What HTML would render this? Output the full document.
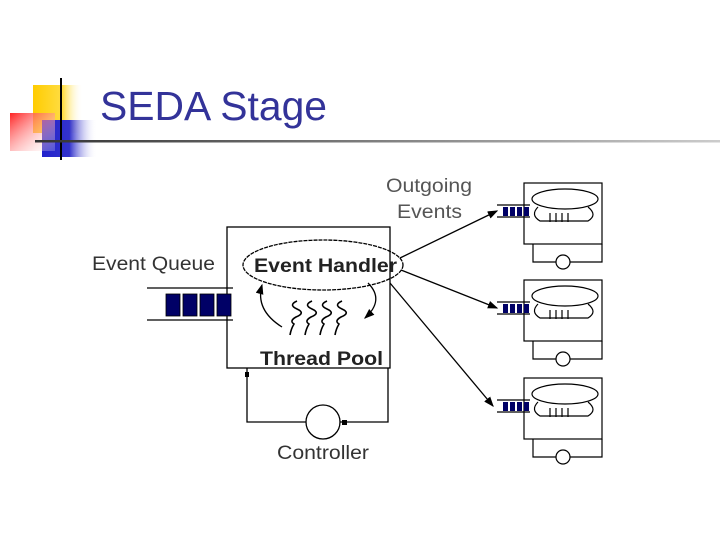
<!DOCTYPE html>
<html><head><style>
body{margin:0;background:#fff}
svg{display:block}
text{font-family:"Liberation Sans",sans-serif}
</style></head><body>
<svg width="720" height="540" viewBox="0 0 720 540" xmlns="http://www.w3.org/2000/svg">
<defs>
<linearGradient id="yg" x1="0" x2="1"><stop offset="0" stop-color="#ffcc00"/><stop offset="0.6" stop-color="#ffdd44"/><stop offset="1" stop-color="#fff" stop-opacity="0"/></linearGradient>
<linearGradient id="rg" x1="0" x2="1" y1="0" y2="1"><stop offset="0" stop-color="#ff2222"/><stop offset="1" stop-color="#fff" stop-opacity="0.2"/></linearGradient>
<linearGradient id="bg" x1="0" x2="1"><stop offset="0" stop-color="#2222cc"/><stop offset="0.5" stop-color="#3333cc"/><stop offset="1" stop-color="#fff" stop-opacity="0"/></linearGradient>
<linearGradient id="lg" x1="0" x2="1"><stop offset="0" stop-color="#333"/><stop offset="1" stop-color="#ccc"/></linearGradient>
<marker id="ah" markerWidth="8" markerHeight="6" refX="7" refY="3" orient="auto"><path d="M0,0 L8,3 L0,6z" fill="#000"/></marker>
</defs>
<rect x="33" y="85" width="50" height="48" fill="url(#yg)"/>
<rect x="42" y="120" width="55" height="37" fill="url(#bg)"/>
<rect x="10" y="113" width="45" height="38" fill="url(#rg)"/>
<line x1="61" y1="78" x2="61" y2="160" stroke="#000" stroke-width="2"/>
<rect x="35" y="140" width="685" height="2.5" fill="url(#lg)"/>
<text x="100" y="120" font-size="41" fill="#333399" textLength="227" lengthAdjust="spacingAndGlyphs">SEDA Stage</text>

<g fill="none" stroke="#000" stroke-width="1.3">
<rect x="227" y="227" width="163" height="141"/>
<ellipse cx="323" cy="265" rx="80" ry="25" stroke-dasharray="4 1"/>
<line x1="147" y1="288" x2="233" y2="288"/>
<line x1="147" y1="320" x2="233" y2="320"/>
<path d="M247 368 V422 H306 M340 422 H388 V368"/>
<circle cx="323" cy="422" r="17"/>
<path d="M282 327 Q255 310 262 285" marker-end="url(#ah)"/>
<path d="M368 283 Q385 300 365 318" marker-end="url(#ah)"/>
<path d="M297 301 q-9 4 0 8 q9 4 -1 8 q-7 4 -2 7 q-3 5 -4 11 M312 301 q-9 4 0 8 q9 4 -1 8 q-7 4 -2 7 q-3 5 -4 11 M327 301 q-9 4 0 8 q9 4 -1 8 q-7 4 -2 7 q-3 5 -4 11 M342 301 q-9 4 0 8 q9 4 -1 8 q-7 4 -2 7 q-3 5 -4 11" stroke-width="1.6"/>
<line x1="400" y1="258" x2="497" y2="211" marker-end="url(#ah)"/>
<line x1="401" y1="270" x2="497" y2="308" marker-end="url(#ah)"/>
<line x1="390" y1="283" x2="493" y2="406" marker-end="url(#ah)"/>
</g>
<rect x="245" y="372" width="4" height="5" fill="#000"/>
<rect x="342" y="420" width="5" height="5" fill="#000"/>
<g fill="#000066" stroke="#000" stroke-width="0.8">
<rect x="166" y="294" width="14" height="22"/><rect x="183" y="294" width="14" height="22"/><rect x="200" y="294" width="14" height="22"/><rect x="217" y="294" width="14" height="22"/>
</g>
<text x="92" y="270" font-size="19" fill="#333" textLength="123" lengthAdjust="spacingAndGlyphs">Event Queue</text>
<text x="254" y="272" font-size="19" font-weight="bold" fill="#222" textLength="143" lengthAdjust="spacingAndGlyphs">Event Handler</text>
<text x="260" y="365" font-size="19" font-weight="bold" fill="#222" textLength="123" lengthAdjust="spacingAndGlyphs">Thread Pool</text>
<text x="277" y="459" font-size="19" fill="#333" textLength="92" lengthAdjust="spacingAndGlyphs">Controller</text>
<text x="386" y="192" font-size="19" fill="#555" textLength="86" lengthAdjust="spacingAndGlyphs">Outgoing</text>
<text x="397" y="218" font-size="19" fill="#555" textLength="65" lengthAdjust="spacingAndGlyphs">Events</text>

<g id="st">
<g fill="none" stroke="#000" stroke-width="1.2">
<rect x="524" y="183" width="78" height="61"/>
<ellipse cx="565" cy="199" rx="33" ry="10"/>
<path d="M538 207 q-8 8 2 14 h48 q10 -6 0 -14"/>
<path d="M550 213 v9 M556 213 v9 M562 213 v9 M568 213 v9"/>
<line x1="497" y1="205" x2="530" y2="205"/><line x1="497" y1="217" x2="530" y2="217"/>
<path d="M533 244 V262 H556 M570 262 H602 V244"/>
<circle cx="563" cy="262" r="7"/>
</g>
<g fill="#000066"><rect x="503" y="207" width="5" height="9"/><rect x="510" y="207" width="5" height="9"/><rect x="517" y="207" width="5" height="9"/><rect x="524" y="207" width="5" height="9"/></g>
</g>
<use href="#st" y="97"/>
<use href="#st" y="195"/>
</svg>
</body></html>
